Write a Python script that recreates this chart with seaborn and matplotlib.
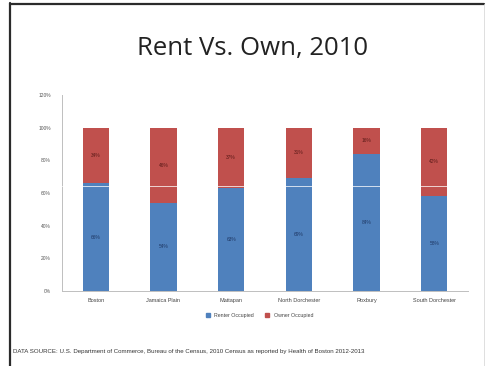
import matplotlib
matplotlib.use("Agg")
import matplotlib.pyplot as plt
import seaborn as sns
import pandas as pd
from matplotlib.lines import Line2D

neighborhoods = ["Boston", "Jamaica Plain", "Mattapan", "North Dorchester", "Roxbury", "South Dorchester"]
renter_pct = [66, 54, 63, 69, 84, 58]
owner_pct = [34, 46, 37, 31, 16, 42]
y_ticks = [0, 20, 40, 60, 80, 100, 120]

blue = "#4F81BD"
red = "#C0504D"

sns.set_theme(style="white")
plt.rcParams["font.family"] = ["Liberation Sans", "DejaVu Sans"]

df = pd.DataFrame({
    "Neighborhood": neighborhoods,
    "Renter": renter_pct,
    "Owner": owner_pct,
})
df["Total"] = df["Renter"] + df["Owner"]

fig = plt.figure(figsize=(4.87, 3.66), dpi=100)
ax = fig.add_axes([62 / 487, 1 - 291 / 366, 406 / 487, (291 - 95) / 366])

sns.barplot(data=df, x="Neighborhood", y="Total", color=red, width=0.39,
            saturation=1, ax=ax, linewidth=0)
sns.barplot(data=df, x="Neighborhood", y="Renter", color=blue, width=0.39,
            saturation=1, ax=ax, linewidth=0)

# thin white rule across the stacks
ax.axhline(64.3, color="white", lw=0.7, alpha=0.75, zorder=5)

for i, (r, o) in enumerate(zip(renter_pct, owner_pct)):
    ax.text(i, r / 2, f"{r}%", ha="center", va="center", fontsize=3.5, color="#1F3864", zorder=6)
    ax.text(i, r + o / 2, f"{o}%", ha="center", va="center", fontsize=3.5, color="#5A1A18", zorder=6)

ax.set_ylim(0, 120)
ax.set_xlim(-0.5, len(neighborhoods) - 0.5)
ax.set_yticks(y_ticks)
ax.set_yticklabels([f"{v}%" for v in y_ticks])
ax.tick_params(axis="y", labelsize=3.5, colors="#555555", length=2, width=0.5, pad=6)
ax.tick_params(axis="x", labelsize=4, colors="#444444", length=0, pad=5)
ax.set_xlabel("")
ax.set_ylabel("")
for side in ["top", "right"]:
    ax.spines[side].set_visible(False)
for side in ["left", "bottom"]:
    ax.spines[side].set_color("#BFBFBF")
    ax.spines[side].set_linewidth(0.7)

handles = [
    Line2D([], [], marker="s", ls="", color=blue, markersize=2.5, label="Renter Occupied"),
    Line2D([], [], marker="s", ls="", color=red, markersize=2.5, label="Owner Occupied"),
]
fig.legend(handles=handles, loc="center", bbox_to_anchor=(258 / 487, 1 - 315 / 366),
           ncol=2, frameon=False, fontsize=3.8, handletextpad=0.3, columnspacing=1.5,
           labelcolor="#444444")

fig.text(253 / 487, 1 - 48 / 366, "Rent Vs. Own, 2010", ha="center", va="center",
         fontsize=18.5, color="#222222", family=["Open Sans", "DejaVu Sans"])

fig.text(13 / 487, 1 - 352 / 366,
         "DATA SOURCE: U.S. Department of Commerce, Bureau of the Census, 2010 Census as reported by Health of Boston 2012-2013",
         ha="left", va="center", fontsize=4.4, color="#333333")

# slide frame
fig.add_artist(Line2D([10 / 487, 10 / 487], [0, 1 - 3 / 366], transform=fig.transFigure,
                      color="#2B2B2B", lw=1.6))
fig.add_artist(Line2D([10 / 487, 484 / 487], [1 - 3.5 / 366, 1 - 3.5 / 366], transform=fig.transFigure,
                      color="#2B2B2B", lw=1.6))
fig.add_artist(Line2D([484 / 487, 484 / 487], [0, 1 - 3.5 / 366], transform=fig.transFigure,
                      color="#D9D9D9", lw=0.6))

fig.savefig("out.png", dpi=100)
